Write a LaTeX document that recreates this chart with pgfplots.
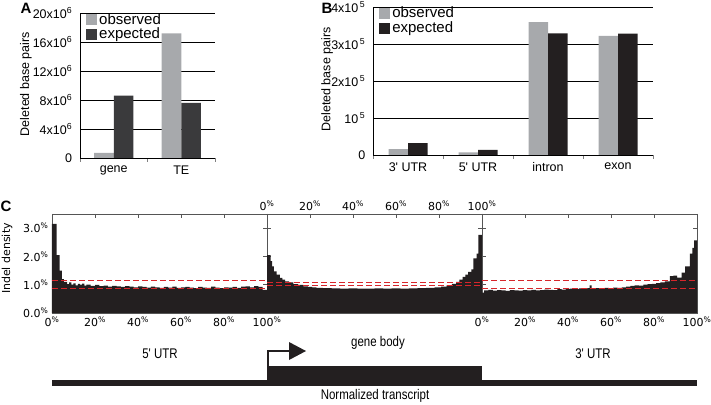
\documentclass[border=0pt]{standalone}
\usepackage{pgfplots}
\pgfplotsset{compat=1.18}
\usepackage{fontspec}
\setmainfont{Liberation Sans}
\newfontfamily\dejavu{DejaVu Sans}
\definecolor{obs}{HTML}{A7A9AC}
\definecolor{expA}{HTML}{3A3A3C}
\definecolor{expB}{HTML}{231F20}
\definecolor{hist}{HTML}{231F20}
\definecolor{redd}{HTML}{D7262B}
\definecolor{spine}{HTML}{555555}
\pgfplotsset{
  barstyle/.style={
    scale only axis, anchor=south west,
    ybar=0pt, bar width=19.5pt,
    axis lines*=left,
    axis line style={black, line width=0.8pt},
    major x tick style={draw=none},
    minor tick length=4pt,
    tick align=outside,
    major y tick style={draw=none},
    ymajorgrids, grid style={black, line width=0.8pt},
    scaled y ticks=false,
    tick label style={font=\fontsize{12.5}{13}\selectfont},
    every axis y label/.style={rotate=90, anchor=center, font=\fontsize{12.5}{13}\selectfont},
    legend style={draw=none, fill=none, font=\fontsize{15}{15}\selectfont,
      anchor=north west, legend cell align=left,
      nodes={inner ysep=0.5pt, inner xsep=2pt, text height=10.5pt, text depth=3.3pt}},
    legend image code/.code={\fill[##1,draw=none] (0pt,-5pt) rectangle (11pt,6pt);},
  },
  Cstyle/.style={
    scale only axis, anchor=south west, width=215pt, height=99pt,
    xmin=0, xmax=100, ymin=0, ymax=3.5,
    xtick={0,20,40,60,80,100}, ytick={0,1,2,3},
    xticklabels={0\textsuperscript{\%},20\textsuperscript{\%},40\textsuperscript{\%},60\textsuperscript{\%},80\textsuperscript{\%},100\textsuperscript{\%}},
    tick align=inside, major tick length=4pt,
    axis line style={spine, line width=0.8pt},
    tick style={spine, line width=0.6pt},
    tick label style={font=\dejavu\fontsize{11}{11}\selectfont},
  },
  histst/.style={fill=hist, draw=none, const plot mark left, forget plot},
  reddash/.style={redd, line width=1pt, dash pattern=on 6pt off 3pt, forget plot},
}
\begin{document}
\begin{tikzpicture}[x=1pt,y=1pt]
\path[use as bounding box] (0,0) rectangle (711,404);

% ---------------- Panel A ----------------
\begin{axis}[barstyle,
  at={(80pt,246pt)}, width=135pt, height=145pt,
  xmin=-0.5, xmax=1.5, ymin=0, ymax=20e6,
  xtick={0,1}, xticklabels={gene,TE},
  minor xtick={-0.5,0.5,1.5},
  ytick={0,4e6,8e6,12e6,16e6,20e6},
  yticklabels={0,4x10\textsuperscript{6},8x10\textsuperscript{6},12x10\textsuperscript{6},16x10\textsuperscript{6},20x10\textsuperscript{6}},
  ylabel={Deleted base pairs},
  every axis y label/.append style={at={(axis description cs:-0.40,0.51)}},
  legend style={at={(axis description cs:0.022,1.015)}},
]
\addplot[fill=obs, draw=none] coordinates {(0,0.7e6) (1,17.2e6)};
\addplot[fill=expA, draw=none] coordinates {(0,8.6e6) (1,7.6e6)};
\legend{observed,expected}
\end{axis}

% ---------------- Panel B ----------------
\begin{axis}[barstyle,
  at={(373pt,249pt)}, width=280pt, height=148pt,
  xmin=-0.5, xmax=3.5, ymin=0, ymax=4e5,
  xtick={0,1,2,3}, xticklabels={3\textquotesingle{} UTR,5\textquotesingle{} UTR,intron,exon},
  minor xtick={-0.5,0.5,1.5,2.5,3.5},
  ytick={0,1e5,2e5,3e5,4e5},
  yticklabels={0,10\textsuperscript{\,5},2x10\textsuperscript{\,5},3x10\textsuperscript{\,5},4x10\textsuperscript{\,5}},
  ylabel={Deleted base pairs},
  every axis y label/.append style={at={(axis description cs:-0.164,0.51)}},
  legend style={at={(axis description cs:0.011,1.015)}},
]
\addplot[fill=obs, draw=none] coordinates {(0,1.6e4) (1,0.7e4) (2,3.59e5) (3,3.22e5)};
\addplot[fill=expB, draw=none] coordinates {(0,3.2e4) (1,1.4e4) (2,3.29e5) (3,3.28e5)};
\legend{observed,expected}
\end{axis}

% ---------------- Panel C : 5' UTR ----------------
\begin{axis}[Cstyle, at={(52pt,91pt)},
  yticklabels={0.0\textsuperscript{\%},1.0\textsuperscript{\%},2.0\textsuperscript{\%},3.0\textsuperscript{\%}},
  ylabel={Indel density},
  every axis y label/.style={at={(axis description cs:-0.209,0.55)}, rotate=90, anchor=center, font=\dejavu\fontsize{11}{11}\selectfont},
]
\addplot[histst] table {
x y
0 3.15
2.2 2.05
3.6 1.5
4.6 1.2
5.5 1.1
7 1.02
8 1.08
9 1.0
10 1.05
11 0.98
12 1.03
13 1.0
14 1.04
15 0.97
16 1.0
18 0.96
20 0.99
22 0.95
24 0.97
26 0.93
28 0.96
30 0.94
32 0.92
34 0.95
36 0.93
38 0.91
40 0.94
42 0.92
44 0.90
46 0.93
48 0.91
50 0.89
52 0.92
54 0.90
56 0.93
58 0.89
60 0.91
62 0.92
64 0.90
66 0.88
68 0.92
70 0.90
72 0.89
74 0.93
76 0.90
78 0.88
80 0.91
82 0.90
84 0.92
86 0.89
88 0.93
90 0.94
92 0.91
94 0.95
96 0.92
98 0.82
100 0.82
} \closedcycle;
\addplot[reddash] coordinates {(0,1.16) (100,1.16)};
\addplot[reddash] coordinates {(0,0.86) (100,0.86)};
\end{axis}

% ---------------- Panel C : gene body ----------------
\begin{axis}[Cstyle, at={(267pt,91pt)}, yticklabels={}, xticklabel pos=top]
\addplot[histst] table {
x y
0 2.05
1.7 1.83
2.4 1.65
3.2 1.47
4.5 1.36
6 1.24
7.2 1.18
8.4 1.12
10.3 1.08
12.3 1.02
14.5 0.99
16.9 0.94
19 0.92
21 0.91
23 0.89
26 0.88
30 0.87
34 0.86
38 0.87
42 0.86
46 0.86
50 0.87
54 0.86
58 0.87
62 0.86
66 0.87
70 0.88
74 0.89
78 0.91
81 0.93
83.5 0.98
86 1.03
88 1.10
89.5 1.18
91 1.28
92.3 1.36
93.5 1.45
95 1.54
96 1.93
97.5 2.10
98.3 2.76
100 2.76
} \closedcycle;
\addplot[reddash] coordinates {(0,1.08) (100,1.08)};
\addplot[reddash] coordinates {(0,0.96) (100,0.96)};
\end{axis}

% ---------------- Panel C : 3' UTR ----------------
\begin{axis}[Cstyle, at={(482pt,91pt)}, yticklabels={}]
\addplot[histst] table {
x y
0 0.72
1 0.80
3 0.82
5 0.79
7 0.81
9 0.80
11 0.78
13 0.81
15 0.80
17 0.79
19 0.81
21 0.80
23 0.82
25 0.80
27 0.81
29 0.83
31 0.82
33 0.81
35 0.84
37 0.83
39 0.85
41 0.86
43 0.84
45 0.87
47 0.86
49 0.88
50 0.98
51 0.87
53 0.88
55 0.86
57 0.89
59 0.88
61 0.90
63 0.89
65 0.91
67 0.93
69 0.96
71 0.98
73 0.97
75 1.00
77 1.02
79 1.03
81 1.06
83 1.08
85 1.12
87.4 1.30
89 1.32
90.7 1.25
92.9 1.43
94.5 1.65
96.7 2.10
97.8 2.30
98.6 2.57
100 2.57
} \closedcycle;
\addplot[reddash] coordinates {(0,1.16) (100,1.16)};
\addplot[reddash] coordinates {(0,0.87) (100,0.87)};
\end{axis}

% ---------------- Overlay: panel letters and transcript schematic ----------------
\begin{axis}[at={(0pt,0pt)}, anchor=south west, scale only axis, width=711pt, height=404pt,
  xmin=0, xmax=711, ymin=0, ymax=404, y dir=reverse, hide axis, clip=false]
\node[font=\bfseries\fontsize{15}{15}\selectfont] at (axis cs:26,8) {A};
\node[font=\bfseries\fontsize{15}{15}\selectfont] at (axis cs:327,8) {B};
\node[font=\bfseries\fontsize{15}{15}\selectfont] at (axis cs:6,206) {C};
\fill[hist] (axis cs:52,380) rectangle (axis cs:697,386);
\fill[hist] (axis cs:267,366) rectangle (axis cs:482,386);
\draw[hist, line width=2pt] (axis cs:268,367) -- (axis cs:268,351) -- (axis cs:292,351);
\fill[hist] (axis cs:289,342) -- (axis cs:306,351) -- (axis cs:289,360) -- cycle;
\node at (axis cs:160,354) {\scalebox{0.82}[1]{\fontsize{14}{14}\selectfont 5\textquotesingle{} UTR}};
\node at (axis cs:378,343) {\scalebox{0.82}[1]{\fontsize{14}{14}\selectfont gene body}};
\node at (axis cs:593,354) {\scalebox{0.82}[1]{\fontsize{14}{14}\selectfont 3\textquotesingle{} UTR}};
\node at (axis cs:375,396) {\scalebox{0.82}[1]{\fontsize{14}{14}\selectfont Normalized transcript}};
\end{axis}
\end{tikzpicture}
\end{document}
